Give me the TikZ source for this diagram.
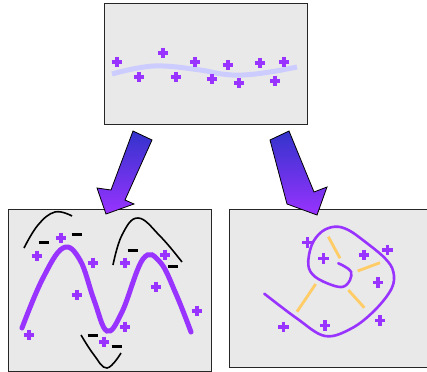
\documentclass[tikz,border=0pt]{standalone}
\begin{document}
\begin{tikzpicture}[x=1pt,y=-1pt,
  box/.style={draw=black!85, line width=1.1pt, fill=boxgray, inner sep=0pt, anchor=north west},
  bigarrow/.style={draw=black, line width=0.8pt, top color=arrtop, bottom color=arrbot},
  pplus/.pic={\draw[pluscol, line width=3.2pt] (-5.3,0)--(5.3,0) (0,-5.3)--(0,5.3);},
  pminus/.pic={\draw[black, line width=3pt] (-5.3,0)--(5.3,0);},
  sinepurple/.style={pluscol, line width=5pt, line cap=round},
  arcblack/.style={black, line width=1.6pt},
  spiral/.style={pluscol, line width=2.6pt, line cap=round},
  bond/.style={bondcol, line width=2.8pt}
]
\definecolor{boxgray}{HTML}{E9E9E9}
\definecolor{pluscol}{HTML}{9933FF}
\definecolor{arrtop}{HTML}{3333CC}
\definecolor{arrbot}{HTML}{9933FF}
\definecolor{wavecol}{HTML}{CCCCFF}
\definecolor{bondcol}{HTML}{FFCC66}
\useasboundingbox (0,0) rectangle (427,371);

% boxes
\node[box, minimum width=203pt, minimum height=121pt] (top) at (104,3) {};
\node[box, minimum width=203pt, minimum height=162pt] (bl) at (8,209) {};
\node[box, minimum width=205pt, minimum height=158pt] (br) at (229,209) {};

% arrows
\path[bigarrow] (133,131) -- (152,140) -- (125,200) -- (134,204) -- (106,214)
  -- (97,188) -- (111,190) -- cycle;
\path[bigarrow] (289,131) -- (270,140) -- (287,204) -- (317,215)
  -- (327,187) -- (314,192) -- cycle;

% top box content
\draw[wavecol, line width=5pt] plot[smooth, tension=0.7] coordinates
  {(112,74) (138,68) (163,66) (200,70) (222,74) (243,75) (270,72) (297,67)};
\foreach \p in {(117,62),(139,77),(163,53),(176,77),(195,62),(212,79),(228,65),(239,83),(260,63),(275,81),(284,62)}
  \pic at \p {pplus};

% bottom-left content
\draw[sinepurple] plot[smooth, tension=0.65] coordinates
  {(22,328) (42,280) (63,248) (80,260) (94,300) (107,331) (122,312) (143,259) (160,262) (176,294) (191,332)};
\draw[arcblack] plot[smooth, tension=0.7] coordinates {(24,248) (38,225) (55,212) (72,216)};
\draw[arcblack] plot[smooth, tension=0.7] coordinates {(113,265) (122,235) (138,218) (160,236) (182,262)};
\draw[arcblack] plot[smooth, tension=0.7] coordinates {(81,335) (94,355) (107,368) (121,353)};
\foreach \p in {(44,242),(77,234),(133,250),(173,266),(93,335),(117,346)}
  \pic at \p {pminus};
\foreach \p in {(61,238),(37,256),(93,263),(77,295),(125,263),(165,255),(156,287),(197,311),(29,335),(125,327),(104,342)}
  \pic at \p {pplus};

% bottom-right content
\draw[bond] (328.3,236.7) -- (340,258.3);
\draw[bond] (357.7,271) -- (380,262.7);
\draw[bond] (348.3,290) -- (364.3,307.7);
\draw[bond] (315.7,284) -- (297,311.7);
\draw[spiral] plot[smooth, tension=0.6] coordinates
  {(264.3,293.7) (296.7,318.3) (325,336) (351.7,328.3) (375,310) (391.7,288.3)
   (393.3,271.7) (385,258.3) (365,241.7) (348.3,230) (335,226.7) (321.7,231.7)
   (311.7,245) (308.3,265) (315,276.7) (331.7,285) (343.3,286.7) (350,280)
   (351,271.7) (345,266.7) (338.3,263.3)};
\foreach \p in {(307.7,242.7),(323.7,258.7),(364,255),(387.7,250),(378,282.3),(380,320.7),(325,325.7),(283.7,327)}
  \pic at \p {pplus};
\end{tikzpicture}
\end{document}
